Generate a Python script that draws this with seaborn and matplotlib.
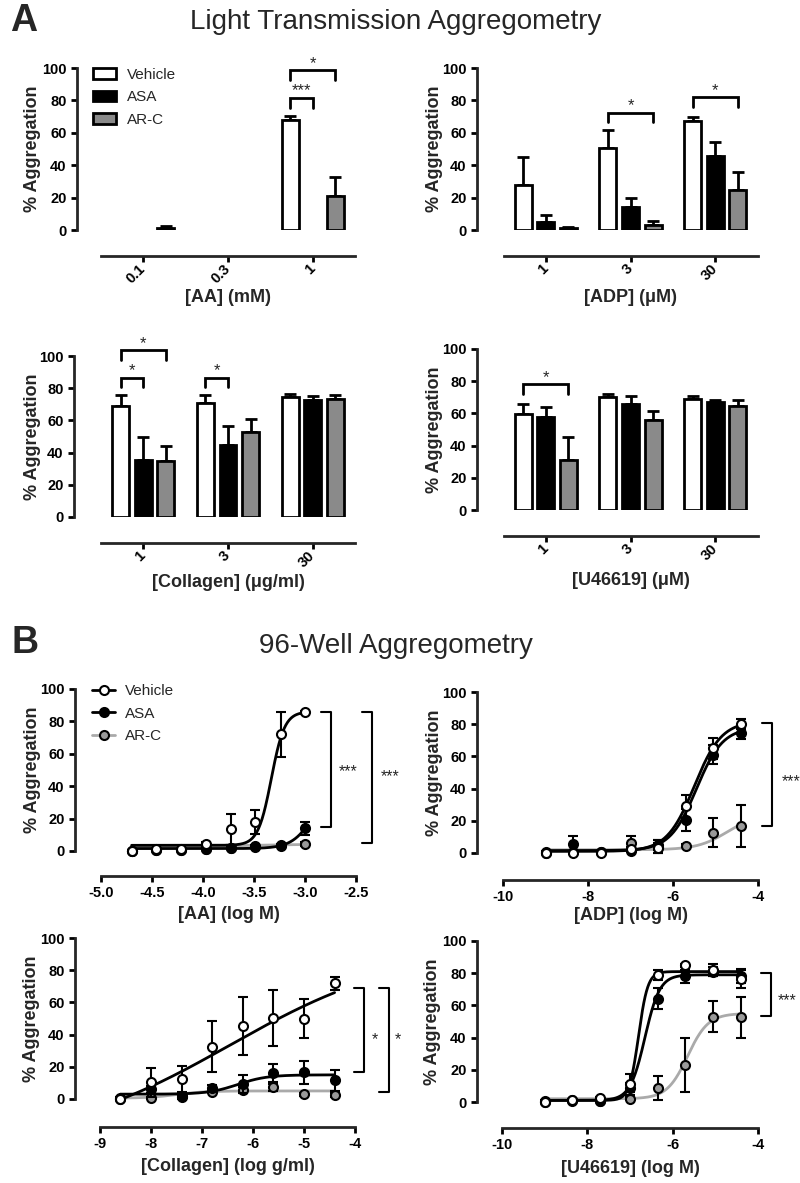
import numpy as np
import pandas as pd
import matplotlib
matplotlib.use("Agg")
import matplotlib.pyplot as plt
import seaborn as sns
from matplotlib.patches import Patch
from matplotlib.lines import Line2D
from matplotlib.transforms import blended_transform_factory

nan = np.nan
treatments = ["Vehicle", "ASA", "AR-C"]

# A: light transmission aggregometry, mean / SEM (rows: Vehicle, ASA, AR-C)
aa_conc = ["0.1", "0.3", "1"]
aa_mean = [[nan, nan, 68], [nan, nan, nan], [1.5, nan, 21]]
aa_sem = [[nan, nan, 2.5], [nan, nan, nan], [1, nan, 12]]

adp_conc = ["1", "3", "30"]
adp_mean = [[28, 50.5, 67], [5, 14.5, 45.5], [1, 3, 24.5]]
adp_sem = [[17, 11, 3], [4, 5.5, 9], [1, 2.5, 11]]

col_conc = ["1", "3", "30"]
col_mean = [[69, 70.5, 74.5], [35.5, 45, 72.5], [35, 52.5, 73]]
col_sem = [[7, 5.5, 2], [14.5, 11.5, 2.5], [9, 8.5, 3]]

u46_conc = ["1", "3", "30"]
u46_mean = [[59.5, 70, 69], [57.5, 66, 67], [31, 56, 64.5]]
u46_sem = [[6.5, 2, 1.5], [6.5, 4.5, 1.5], [14.5, 5.5, 4]]

# significance brackets: (group, from treatment, to treatment, height, label)
aa_sig = [(2, 0, 2, 98.5, "*"), (2, 0, 1, 81.5, "***")]
adp_sig = [(1, 0, 2, 72.5, "*"), (2, 0, 2, 82, "*")]
col_sig = [(0, 0, 2, 103.5, "*"), (0, 0, 1, 86.5, "*"), (1, 0, 1, 86.5, "*")]
u46_sig = [(0, 0, 2, 78, "*")]

# B: 96-well aggregometry, log concentration, mean / SEM
aa96_log = [-4.7, -4.46, -4.22, -3.97, -3.73, -3.49, -3.24, -3.0]
aa96_mean = [[0, 1, 1, 4.3, 13.5, 18, 72, 85.5],
             [0.3, 0.5, 0.6, 1.5, 1.6, 2.8, 3.5, 14],
             [0.2, 0.4, 0.5, 1.5, 2, 2.5, 3, 4.3]]
aa96_sem = [[0.5, 0.5, 0.5, 1, 9.5, 7.5, 14, 1],
            [0.3, 0.3, 0.3, 0.5, 0.5, 0.8, 0.8, 4],
            [0.3, 0.3, 0.3, 0.5, 0.5, 0.5, 0.5, 1]]

adp96_log = [-9.0, -8.35, -7.7, -7.0, -6.35, -5.7, -5.05, -4.4]
adp96_mean = [[0, 0, 0, 2.5, 3, 29, 65, 80],
              [0.5, 5.8, 0.5, 1.5, 4, 20.5, 61, 74.5],
              [0.3, 0.5, 0.5, 6.5, 5, 4.5, 12.5, 17]]
adp96_sem = [[0.5, 0.5, 0.5, 1, 3, 7, 6.5, 3],
             [0.5, 5, 0.5, 1, 4, 7, 6, 3.5],
             [0.3, 0.5, 0.5, 4, 3, 1, 9, 13]]

col96_log = [-8.6, -8.0, -7.4, -6.8, -6.2, -5.6, -5.0, -4.4]
col96_mean = [[0, 10.3, 12.5, 32.5, 45.5, 50.5, 50, 72],
              [0.5, 6, 2, 7, 9.5, 16, 16.5, 11.5],
              [0.3, 0.8, 1.5, 4.5, 5.5, 7.2, 3, 2.5]]
col96_sem = [[0.5, 9, 8, 16, 18, 17.5, 12, 4],
             [0.5, 2, 2, 2, 5.5, 5.5, 7, 6.5],
             [0.3, 0.5, 1, 1, 2, 2, 1, 1]]

u46_96_log = [-9.0, -8.35, -7.7, -7.0, -6.35, -5.7, -5.05, -4.4]
u46_96_mean = [[0, 1.5, 2.5, 11, 79, 85, 82, 76.5],
               [0.5, 1, 0.5, 9, 64, 78, 81, 78],
               [0.3, 0.5, 0.5, 2, 8.5, 23, 53, 52.5]]
u46_96_sem = [[0.5, 0.5, 0.5, 6.5, 3, 1, 3.5, 6],
              [0.5, 0.5, 0.5, 3, 6.5, 4, 3, 4],
              [0.3, 0.5, 0.5, 1, 7.5, 16.5, 9.5, 12.5]]

# fitted curves: bottom, top, logEC50, hill
aa96_fit = [[3.5, 86, -3.33, 6.7], [1.5, 45, -2.9, 4], [2.5, 4.5, -3.5, 1]]
adp96_fit = [[1, 82, -5.5, 1.35], [1.5, 78, -5.45, 1.4], [2, 25, -4.7, 1.2]]
col96_fit = [[-28, 95, -6.45, 0.25], [3, 15, -6.3, 1.5], [0.5, 5, -7.5, 1.5]]
u46_96_fit = [[1, 81, -6.8, 4], [1, 79, -6.65, 2.5], [2, 55, -5.65, 1.8]]

# brackets right of the curves: (x in axes, top, bottom, label, label x, label y)
aa96_sig = [(0.902, 86, 15, "***", 0.969, 46), (1.063, 86, 5, "***", 1.133, 43)]
adp96_sig = [(1.055, 80.5, 17, "***", 1.129, 41.5)]
col96_sig = [(1.035, 69, 17, "*", 1.078, 34), (1.133, 69, 4.5, "*", 1.169, 34)]
u46_96_sig = [(1.051, 80, 53.5, "***", 1.113, 60)]

bar_colors = ["white", "black", "#8a8a8a"]
marker_faces = ["white", "black", "#9a9a9a"]
line_colors = ["black", "black", "#aaaaaa"]

sns.set_style("ticks")
plt.rcParams["font.family"] = ["Liberation Sans", "DejaVu Sans"]
plt.rcParams["axes.unicode_minus"] = False

W, H = 800, 1183
fig = plt.figure(figsize=(W / 100, H / 100), dpi=100)


def make_axes(x0, x1, y0, y1, left_px, bottom_px):
    ax = fig.add_axes([x0 / W, 1 - y1 / H, (x1 - x0) / W, (y1 - y0) / H])
    # offset spines first: moving a spine rebuilds its ticks
    sns.despine(ax=ax, offset={"left": left_px * 0.72, "bottom": bottom_px * 0.72})
    for s in ["left", "bottom"]:
        ax.spines[s].set_linewidth(2)
    ax.tick_params(width=2, length=4.5, pad=3, colors="black")
    return ax


def finish(ax, xlabel, xlab_y):
    ax.set_ylim(0, 100)
    ax.set_yticks(range(0, 101, 20), labels=[str(v) for v in range(0, 101, 20)],
                  fontsize=10.5, fontweight="bold")
    ax.set_ylabel("% Aggregation", fontsize=13, fontweight="bold")
    ax.yaxis.label.set_va("center")
    ax.yaxis.set_label_coords(-0.27, 0.5)
    ax.set_xlabel(xlabel, fontsize=13, fontweight="bold")
    ax.xaxis.label.set_va("center")
    ax.xaxis.set_label_coords(0.5, xlab_y)


def bar_panel(ax, conc, mean, sem, sig):
    rows = [(c, t, mean[i][j]) for i, t in enumerate(treatments) for j, c in enumerate(conc)]
    df = pd.DataFrame(rows, columns=["conc", "treatment", "value"]).dropna()
    sns.barplot(data=df, x="conc", y="value", hue="treatment", order=conc,
                hue_order=treatments, palette=dict(zip(treatments, bar_colors)),
                saturation=1, edgecolor="black", linewidth=2, width=0.8, gap=0.25,
                errorbar=None, legend=False, ax=ax)
    # bar centres as placed by seaborn, matched back to the data
    centers = {}
    for p in ax.patches:
        xc = p.get_x() + p.get_width() / 2
        j = int(round(xc))
        for i in range(3):
            if np.isclose(mean[i][j], p.get_height()):
                centers[(j, i)] = xc
    for (j, i), xc in list(centers.items()):
        ax.errorbar(xc, mean[i][j], yerr=[[0], [sem[i][j]]], fmt="none", ecolor="black",
                    elinewidth=2, capsize=4, capthick=2, zorder=0.5)
    # slot of a treatment with no bar, from the dodge of the bars that are there
    for j in range(len(conc)):
        known = sorted(i for (jj, i) in centers if jj == j)
        if len(known) >= 2:
            a, b = known[0], known[-1]
            step = (centers[(j, b)] - centers[(j, a)]) / (b - a)
            for i in range(3):
                centers.setdefault((j, i), centers[(j, a)] + (i - a) * step)
    for j, i0, i1, h, label in sig:
        x0, x1 = centers[(j, i0)], centers[(j, i1)]
        ax.plot([x0, x0, x1, x1], [h - 6, h, h, h - 6], color="black", lw=2,
                clip_on=False, solid_joinstyle="miter")
        ax.text((x0 + x1) / 2, h + 1.5, label, ha="center", va="baseline", fontsize=12)
    ax.set_xlim(-0.5, 2.5)
    ax.set_xticks(range(len(conc)), labels=conc, rotation=45, ha="right", va="center",
                  rotation_mode="anchor", fontsize=10.5, fontweight="bold")


def logistic(x, bottom, top, logec50, hill):
    return bottom + (top - bottom) / (1 + 10 ** ((logec50 - x) * hill))


def curve_panel(ax, logx, mean, sem, fit, sig, xticks, xfmt):
    xs = np.linspace(min(logx), max(logx), 300)
    for t in [2, 1, 0]:
        sns.lineplot(x=xs, y=logistic(xs, *fit[t]), color=line_colors[t], linewidth=2,
                     ax=ax, zorder=2, clip_on=False)
    for t in [2, 1, 0]:
        ax.errorbar(logx, mean[t], yerr=sem[t], fmt="o", ms=6.5, mfc=marker_faces[t],
                    mec="black", mew=1.5, ecolor="black", elinewidth=1.5, capsize=3.5,
                    capthick=1.5, zorder=3 + (2 - t), clip_on=False)
    tr = blended_transform_factory(ax.transAxes, ax.transData)
    for xa, top, bottom, label, lx, ly in sig:
        ax.plot([xa - 0.039, xa, xa, xa - 0.039], [top, top, bottom, bottom], color="black",
                lw=1.5, transform=tr, clip_on=False)
        ax.text(lx, ly, label, transform=tr, ha="center", va="baseline", fontsize=11.5)
    ax.set_xlim(xticks[0], xticks[-1])
    ax.set_xticks(xticks, labels=[xfmt.format(v) for v in xticks],
                  fontsize=10.5, fontweight="bold")


# ---- panel A ----
ax1 = make_axes(101, 355, 68, 230, 24, 26)
bar_panel(ax1, aa_conc, aa_mean, aa_sem, aa_sig)
finish(ax1, "[AA] (mM)", -0.414)
ax1.legend(handles=[Patch(facecolor=c, edgecolor="black", linewidth=2, label=t)
                    for t, c in zip(treatments, bar_colors)],
           loc="upper left", bbox_to_anchor=(-0.031, 1.0), frameon=False, fontsize=11,
           handlelength=1.5, handleheight=0.7, handletextpad=0.7, labelspacing=0.55,
           borderpad=0, borderaxespad=0)

ax2 = make_axes(503.5, 757.5, 68, 230, 26.5, 26)
bar_panel(ax2, adp_conc, adp_mean, adp_sem, adp_sig)
finish(ax2, "[ADP] (\u03bcM)", -0.414)

ax3 = make_axes(101, 355, 356, 517, 27, 26)
bar_panel(ax3, col_conc, col_mean, col_sem, col_sig)
finish(ax3, "[Collagen] (\u03bcg/ml)", -0.404)

ax4 = make_axes(503.5, 757.5, 349, 510, 26.5, 26)
bar_panel(ax4, u46_conc, u46_mean, u46_sem, u46_sig)
finish(ax4, "[U46619] (\u03bcM)", -0.435)

# ---- panel B ----
bx1 = make_axes(101, 356, 689, 851, 26, 25)
curve_panel(bx1, aa96_log, aa96_mean, aa96_sem, aa96_fit, aa96_sig,
            [-5.0, -4.5, -4.0, -3.5, -3.0, -2.5], "{:.1f}")
finish(bx1, "[AA] (log M)", -0.395)
bx1.legend(handles=[Line2D([0], [0], color=line_colors[i], lw=2, marker="o", ms=6.5,
                           mfc=marker_faces[i], mec="black", mew=1.5, label=t)
                    for i, t in enumerate(treatments)],
           loc="upper left", bbox_to_anchor=(-0.035, 1.03), frameon=False, fontsize=11,
           handlelength=1.5, handletextpad=0.65, labelspacing=0.55,
           borderpad=0, borderaxespad=0)

bx2 = make_axes(503, 758, 692, 853, 26, 27)
curve_panel(bx2, adp96_log, adp96_mean, adp96_sem, adp96_fit, adp96_sig,
            [-10, -8, -6, -4], "{:d}")
finish(bx2, "[ADP] (log M)", -0.391)

bx3 = make_axes(100, 355, 938, 1099, 25, 28)
curve_panel(bx3, col96_log, col96_mean, col96_sem, col96_fit, col96_sig,
            [-9, -8, -7, -6, -5, -4], "{:d}")
finish(bx3, "[Collagen] (log g/ml)", -0.422)

bx4 = make_axes(502, 758, 941, 1102, 25, 26)
curve_panel(bx4, u46_96_log, u46_96_mean, u46_96_sem, u46_96_fit, u46_96_sig,
            [-10, -8, -6, -4], "{:d}")
finish(bx4, "[U46619] (log M)", -0.416)

# titles and panel letters
fig.text(396 / W, 1 - 29 / H, "Light Transmission Aggregometry", fontsize=20,
         ha="center", va="baseline")
fig.text(10 / W, 1 - 31 / H, "A", fontsize=27, fontweight="bold", va="baseline")
fig.text(396 / W, 1 - 653 / H, "96-Well Aggregometry", fontsize=20,
         ha="center", va="baseline")
fig.text(12 / W, 1 - 653 / H, "B", fontsize=27, fontweight="bold", va="baseline")

fig.savefig("out.png", dpi=100)
